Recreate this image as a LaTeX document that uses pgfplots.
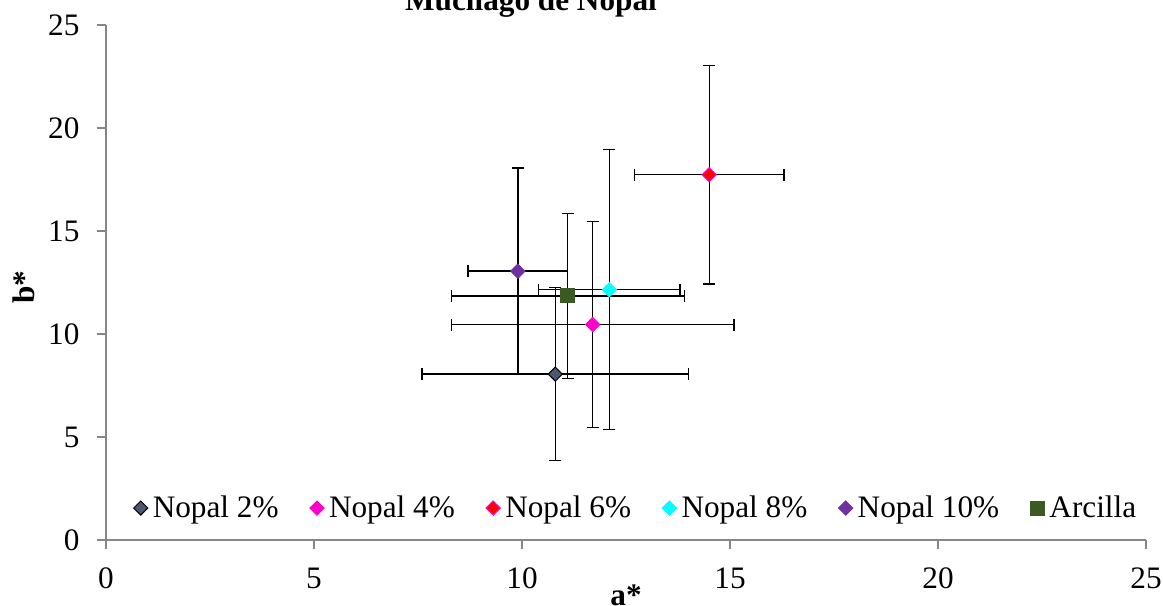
\documentclass[border=0pt]{standalone}
\usepackage{fontspec}
\setmainfont{Liberation Serif}
\usepackage{pgfplots}
\pgfplotsset{compat=1.18}
\definecolor{cA}{HTML}{4A5870}
\definecolor{cB}{HTML}{FF00CC}
\definecolor{cC}{HTML}{FF0000}
\definecolor{cD}{HTML}{00FFFF}
\definecolor{cE}{HTML}{7030A0}
\definecolor{cF}{HTML}{3B5A23}
\definecolor{axgray}{HTML}{868686}
\newcommand{\fs}{\fontsize{12.5}{14}\selectfont}
\begin{document}
\begin{tikzpicture}
\useasboundingbox (-42.4pt,-26.4pt) rectangle (422.8pt,216pt);
\begin{axis}[
  at={(0pt,0pt)}, anchor=south west,
  scale only axis, width=416pt, height=206pt,
  xmin=0, xmax=25, ymin=0, ymax=25,
  xtick={0,5,...,25}, ytick={0,5,...,25},
  axis x line*=bottom, axis y line*=left,
  axis line style={axgray, line width=0.6pt, -},
  tick align=outside, major tick length=3.6pt,
  tick style={axgray, line width=0.6pt},
  ticklabel style={font=\fs},
  /pgf/number format/assume math mode=true,
  xticklabel style={yshift=-4pt},
  yticklabel style={xshift=-3.5pt},
  xlabel={\textbf{a*}}, ylabel={\textbf{b*}},
  label style={font=\fs},
  xlabel style={at={(axis description cs:0.5,-0.107)}, anchor=center},
  ylabel style={at={(axis description cs:-0.079,0.491)}, anchor=center},
  error bars/error bar style={black, line width=0.55pt},
  error bars/error mark options={rotate=90, black, mark size=2.4pt, line width=0.55pt},
  legend columns=-1,
  legend style={at={(0.511,0.062)}, anchor=center, draw=none, fill=none, font=\fs,
    /tikz/every even column/.append style={column sep=10.5pt}},
  legend image code/.code={\draw[#1] plot coordinates {(0cm,0cm)};},
]
\addplot[only marks, mark=square*, mark size=2pt, mark options={rotate=45, fill=cA, draw=black, line width=0.4pt},
  error bars/.cd, x dir=both, x explicit, y dir=both, y explicit]
  coordinates {(10.8,8.05) +- (3.2,4.2)};
\addlegendentry{Nopal 2\%}
\addplot[only marks, mark=square*, mark size=2pt, mark options={rotate=45, fill=cB, draw=cB},
  error bars/.cd, x dir=both, x explicit, y dir=both, y explicit]
  coordinates {(11.7,10.46) +- (3.4,5.0)};
\addlegendentry{Nopal 4\%}
\addplot[only marks, mark=square*, mark size=2pt, mark options={rotate=45, fill=cC, draw=cB, line width=0.4pt},
  error bars/.cd, x dir=both, x explicit, y dir=both, y explicit]
  coordinates {(14.5,17.73) +- (1.8,5.3)};
\addlegendentry{Nopal 6\%}
\addplot[only marks, mark=square*, mark size=2pt, mark options={rotate=45, fill=cD, draw=cD},
  error bars/.cd, x dir=both, x explicit, y dir=both, y explicit]
  coordinates {(12.1,12.15) +- (1.7,6.8)};
\addlegendentry{Nopal 8\%}
\addplot[only marks, mark=square*, mark size=2pt, mark options={rotate=45, fill=cE, draw=cE},
  error bars/.cd, x dir=both, x explicit, y dir=both, y explicit]
  coordinates {(9.9,13.05) +- (1.2,5.0)};
\addlegendentry{Nopal 10\%}
\addplot[only marks, mark=square*, mark size=2.8pt, mark options={fill=cF, draw=cF},
  error bars/.cd, x dir=both, x explicit, y dir=both, y explicit]
  coordinates {(11.1,11.85) +- (2.8,4.0)};
\addlegendentry{Arcilla}
\end{axis}
\node[font=\bfseries\fs, anchor=base] at (170pt,211.6pt) {Mucilago de Nopal};
\end{tikzpicture}
\end{document}
